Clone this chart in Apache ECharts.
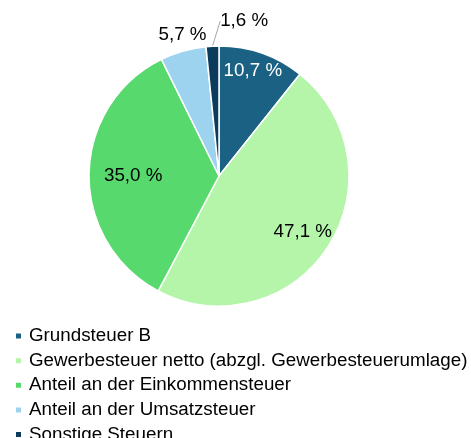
<!DOCTYPE html>
<html>
<head>
<meta charset="utf-8">
<script src="https://cdn.jsdelivr.net/npm/echarts@6/dist/echarts.min.js"></script>
<style>
  html, body { margin: 0; padding: 0; background: #fff; }
  #chart { width: 471px; height: 438px; }
</style>
</head>
<body>
<div id="chart"></div>
<script>
// Steueranteile in Prozent
const categories = [
  'Grundsteuer B',
  'Gewerbesteuer netto (abzgl. Gewerbesteuerumlage)',
  'Anteil an der Einkommensteuer',
  'Anteil an der Umsatzsteuer',
  'Sonstige Steuern'
];
const values = [10.7, 47.1, 35.0, 5.7, 1.6];
const colors = ['#1b6183', '#b4f5aa', '#58d96e', '#9dd3ef', '#0c3c5c'];
const labelColors = ['#ffffff', '#000000', '#000000', '#000000', '#000000'];

// label placement (fraction of radius + small shift), like the original best-fit labels
const labelRadius = [0.86, 0.77, 0.66, 1.13, 1.2];
const labelShift = [[-3, 0], [0, 1], [0, 1], [4, 0], [33, 1]];

const cx = 219, cy = 176, R = 130;
const FONT = '"Liberation Sans", Arial, sans-serif';

const total = values.reduce((a, b) => a + b, 0);
const midAngles = [];
let acc = 0;
values.forEach(v => {
  midAngles.push((acc + v / 2) / total * Math.PI * 2);
  acc += v;
});

const chart = echarts.init(document.getElementById('chart'));

chart.setOption({
  animation: false,
  color: colors,
  textStyle: { fontFamily: FONT },
  legend: {
    orient: 'vertical',
    left: 14,
    top: 326.6,
    height: 120,
    padding: 0,
    itemWidth: 7,
    itemHeight: 7,
    itemGap: 5.6,
    icon: 'rect',
    textStyle: { fontSize: 18.8, color: '#000', fontFamily: FONT, padding: [0, 0, 0, 2] },
    data: categories
  },
  series: [{
    type: 'pie',
    center: [cx, cy],
    radius: R,
    startAngle: 90,
    clockwise: true,
    itemStyle: { borderColor: '#fff', borderWidth: 1.5 },
    label: {
      show: true,
      position: 'outside',
      overflow: 'none',
      fontSize: 18.8,
      fontFamily: FONT,
      formatter: p => p.value.toFixed(1).replace('.', ',') + ' %'
    },
    labelLine: { show: false },
    labelLayout: p => {
      const i = p.dataIndex;
      const a = midAngles[i];
      const f = labelRadius[i];
      return {
        x: cx + f * R * Math.sin(a) + labelShift[i][0],
        y: cy - f * R * Math.cos(a) + labelShift[i][1],
        align: 'center',
        verticalAlign: 'middle'
      };
    },
    emphasis: { disabled: true },
    data: categories.map((name, i) => ({
      name: name,
      value: values[i],
      label: { color: labelColors[i] },
      labelLine: i === 4
        ? { show: true, length: 14, length2: 0, lineStyle: { color: '#a6a6a6', width: 1 } }
        : { show: false }
    }))
  }]
});
</script>
</body>
</html>
